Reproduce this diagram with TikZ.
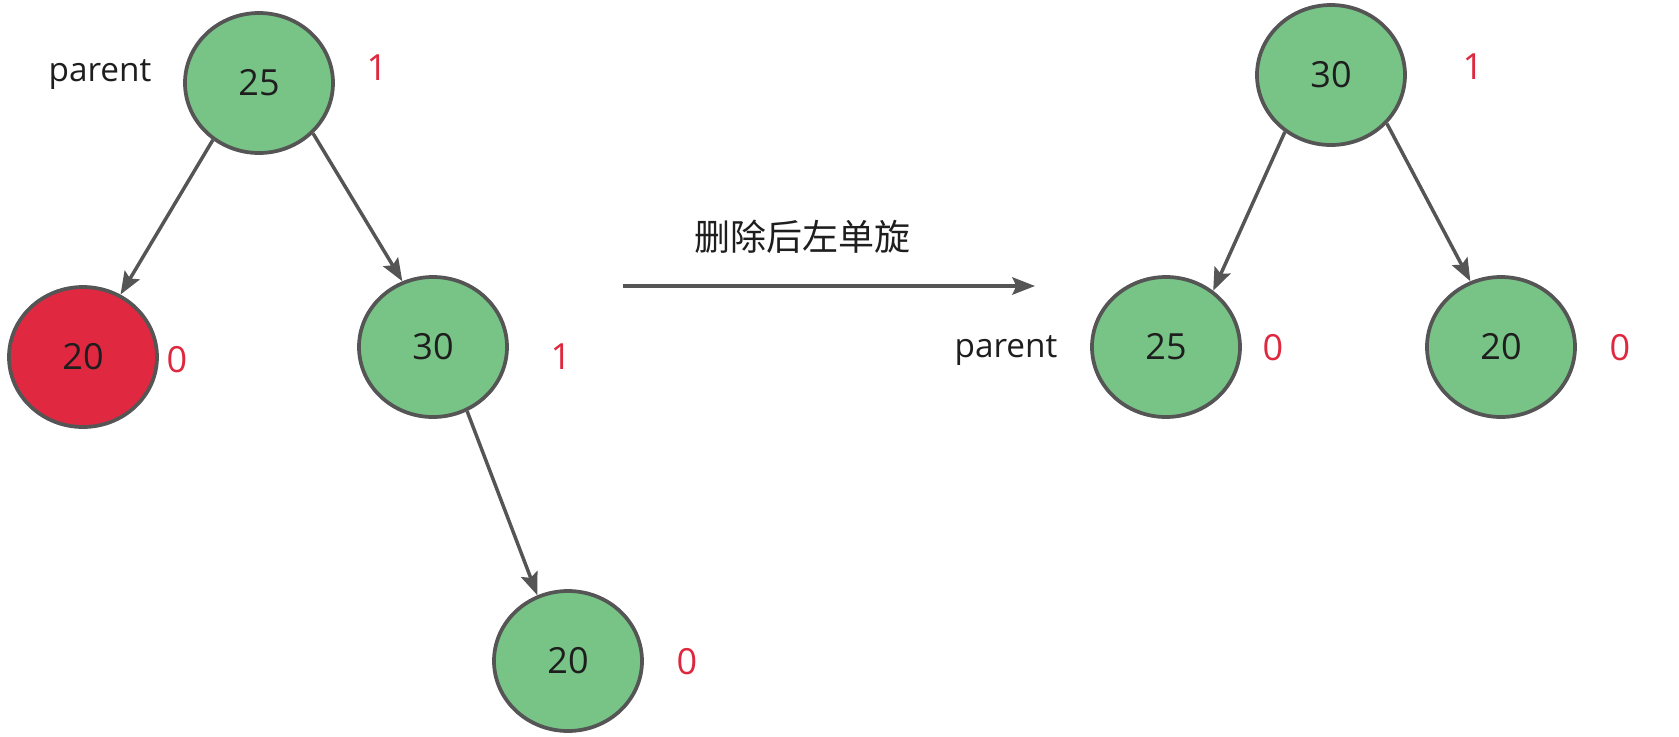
\documentclass[tikz,border=0pt]{standalone}
\usepackage{fontspec}
\setmainfont{Open Sans}
\newfontfamily\cjk{Noto Sans CJK SC}
\usetikzlibrary{shapes.geometric,arrows.meta}
\definecolor{nodegreen}{RGB}{120,196,135}
\definecolor{nodered}{RGB}{224,41,65}
\definecolor{edgegray}{RGB}{85,85,85}
\definecolor{labelred}{RGB}{222,40,62}
\definecolor{txt}{RGB}{30,30,30}
\tikzset{
  treenode/.style={ellipse, draw=edgegray, line width=2.8pt, fill=nodegreen,
    minimum width=111pt, minimum height=105pt, inner sep=0pt,
    font=\fontsize{27}{32}\selectfont, text=txt},
  rednode/.style={treenode, fill=nodered},
  bal/.style={font=\fontsize{27}{32}\selectfont, text=labelred, inner sep=0pt},
  plabel/.style={font=\fontsize{25}{30}\selectfont, text=txt, inner sep=0pt},
  edge/.style={draw=edgegray, line width=2.6pt,
    -{Stealth[length=17pt,width=13pt,inset=3pt]}}
}
\begin{document}
\begin{tikzpicture}[x=0.75pt,y=-0.75pt]
\useasboundingbox (0,0) rectangle (1679,736);
% left tree
\node[treenode] (a25) at (259,83) {25};
\node[rednode] (a20) at (83,357) {20};
\node[treenode] (a30) at (433,347) {30};
\node[treenode] (b20) at (568,661) {20};
\node[plabel] (p1) at (100,75) {parent};
\node[bal] (ba25) at (377,68) {1};
\node[bal] (ba20) at (177,360) {0};
\node[bal] (ba30) at (561,357) {1};
\node[bal] (bb20) at (687,662) {0};
\draw[edge] (a25.-129) -- (a20.59);
\draw[edge] (a25.-43) -- (a30.115);
\draw[edge] (a30.-62) -- (b20.115);
% transition
\coordinate (s) at (623,286);
\coordinate (e) at (1035,286);
\draw[edge] (s) -- (e);
\node[font=\cjk\fontsize{27}{30}\selectfont, text=txt] (lbl) at (802,237) {删除后左单旋};
% right tree
\node[treenode] (c30) at (1331,75) {30};
\node[treenode] (c25) at (1166,347) {25};
\node[treenode] (c20) at (1501,347) {20};
\node[plabel] (p2) at (1006,351) {parent};
\node[bal] (bc30) at (1473,67) {1};
\node[bal] (bc25) at (1273,348) {0};
\node[bal] (bc20) at (1620,348) {0};
\draw[edge] (c30.-129) -- (c25.50);
\draw[edge] (c30.-41) -- (c20.115);
\end{tikzpicture}
\end{document}
